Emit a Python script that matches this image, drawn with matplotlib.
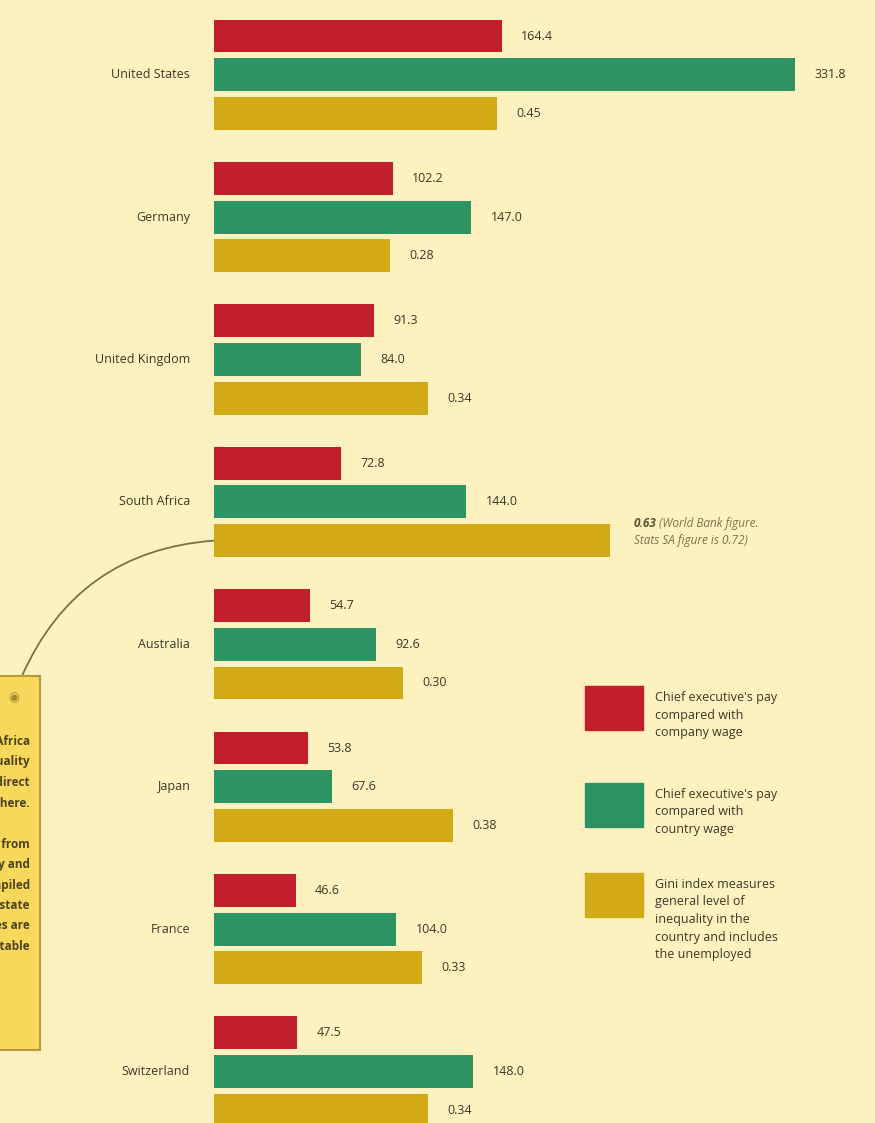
import matplotlib
matplotlib.use("Agg")
import matplotlib.pyplot as plt
from matplotlib.patches import Rectangle

# ---------------- data ----------------
countries = ["United States", "Germany", "United Kingdom", "South Africa",
             "Australia", "Japan", "France", "Switzerland"]
pay_vs_company = [164.4, 102.2, 91.3, 72.8, 54.7, 53.8, 46.6, 47.5]
pay_vs_country = [331.8, 147.0, 84.0, 144.0, 92.6, 67.6, 104.0, 148.0]
gini = [0.45, 0.28, 0.34, 0.63, 0.30, 0.38, 0.33, 0.34]
gini_note_1 = "(World Bank figure."
gini_note_2 = "Stats SA figure is 0.72)"
legend_labels = [
    "Chief executive's pay\ncompared with\ncompany wage",
    "Chief executive's pay\ncompared with\ncountry wage",
    "Gini index measures\ngeneral level of\ninequality in the\ncountry and includes\nthe unemployed",
]
side_note = ("See note: the South Africa\nGini index is disputed; its inequality\n"
             "is the highest in the direct\ncomparison made here.\n\n"
             "Other data sourced from\nstudy of executive pay and\n"
             "company reports compiled\nby researchers in each state\n"
             "and then the figures are\ncompared for the table")

# ---------------- style ----------------
W, H = 875, 1123
BG = "#fdf1bf"
RED = "#c21f2b"
GREEN = "#2e9362"
GOLD = "#d2a917"
TXT = "#3b3826"
FONT = ["Open Sans", "DejaVu Sans"]
plt.rcParams["font.family"] = FONT

fig = plt.figure(figsize=(W / 100, H / 100), dpi=100)
fig.patch.set_facecolor(BG)

ax = fig.add_axes([0, 0, 1, 1])
ax.set_facecolor("none")
x0 = 214            # pixel where bars start
px_pay = 1.75       # pixels per pay-ratio unit
px_gini = 629       # pixels per gini unit
slot = 38.7         # pixels per bar slot
group = 142.4 / slot
top = 36
ax.set_xlim(-x0 / px_pay, (W - x0) / px_pay)
ax.set_ylim((H - top) / slot, -top / slot)
ax.axis("off")

ax2 = ax.twiny()
ax2.set_xlim(-x0 / px_gini, (W - x0) / px_gini)
ax2.set_ylim(ax.get_ylim())
ax2.axis("off")

bh = 0.85
ys_red = [i * group for i in range(len(countries))]
ys_green = [y + 1 for y in ys_red]
ys_gold = [y + 2 for y in ys_red]

ax.barh(ys_red, pay_vs_company, height=bh, color=RED, left=0)
ax.barh(ys_green, pay_vs_country, height=bh, color=GREEN, left=0)
ax2.barh(ys_gold, gini, height=bh, color=GOLD, left=0)

lab_kw = dict(textcoords="offset points", va="center", ha="left",
              fontsize=9, color=TXT)
for i, c in enumerate(countries):
    ax.text(-24 / px_pay, ys_green[i], c, ha="right", va="center",
            fontsize=9, color=TXT)
    ax.annotate(f"{pay_vs_company[i]:.1f}", (pay_vs_company[i], ys_red[i]),
                xytext=(14, 0), **lab_kw)
    ax.annotate(f"{pay_vs_country[i]:.1f}", (pay_vs_country[i], ys_green[i]),
                xytext=(14, 0), **lab_kw)
    if c == "South Africa":
        ax2.annotate(f"{gini[i]:.2f}", (gini[i], ys_gold[i] - 0.45),
                     xytext=(17, 0), textcoords="offset points", va="center",
                     ha="left", fontsize=8.5, color="#5a5536", style="italic",
                     fontweight="bold")
        ax2.annotate(gini_note_1, (gini[i], ys_gold[i] - 0.45),
                     xytext=(35, 0), textcoords="offset points", va="center",
                     ha="left", fontsize=8.5, color="#7a744e", style="italic")
        ax2.annotate(gini_note_2, (gini[i], ys_gold[i] - 0.45),
                     xytext=(17, -12.5), textcoords="offset points",
                     va="center", ha="left", fontsize=8.5, color="#7a744e",
                     style="italic")
    else:
        ax2.annotate(f"{gini[i]:.2f}", (gini[i], ys_gold[i]),
                     xytext=(14, 0), **lab_kw)

# ---------------- legend ----------------
leg_colors = [RED, GREEN, GOLD]
leg_tops = [686, 783, 873]
for col, ytop, lab in zip(leg_colors, leg_tops, legend_labels):
    fig.add_artist(Rectangle((585 / W, 1 - (ytop + 44) / H), 58 / W, 44 / H,
                             transform=fig.transFigure, color=col))
    fig.text(655 / W, 1 - (ytop + 5) / H, lab, ha="left", va="top",
             fontsize=9, color=TXT, linespacing=1.45)

# ---------------- side note box (cut off at left edge, as in the original) ---
box = Rectangle((-20 / W, 1 - 1050 / H), 60 / W, (1050 - 676) / H,
                transform=fig.transFigure, facecolor="#f8d85a",
                edgecolor="#b9993a", lw=1.5)
fig.add_artist(box)
fig.text(14 / W, 1 - 698 / H, "\u25c9", ha="center", va="center",
         fontsize=9, color="#a08a30")
t = fig.text(30 / W, 1 - 735 / H, side_note, ha="right", va="top",
             fontsize=8.5, color="#4a4320", fontweight="bold", linespacing=1.75)
t.set_clip_path(box)

ax.annotate("", xy=(0, ys_gold[3]), xycoords="data",
            xytext=(22 / W, 1 - 676 / H), textcoords="figure fraction",
            arrowprops=dict(arrowstyle="-", connectionstyle="arc3,rad=-0.3",
                            color="#7d7140", lw=1.3, shrinkA=0, shrinkB=0))

fig.savefig("out.png", dpi=100, facecolor=BG)
